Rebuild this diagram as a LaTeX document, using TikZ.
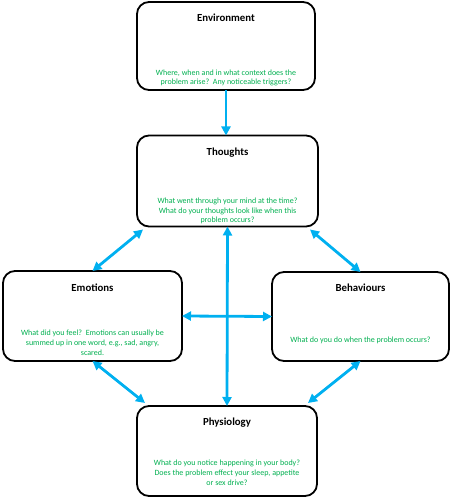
\documentclass[tikz,border=0pt]{standalone}
\usepackage{fontspec}
\setmainfont{Carlito}
\usepackage{xcolor}
\usetikzlibrary{arrows.meta}
\definecolor{cbtgreen}{RGB}{0,176,80}
\definecolor{cbtblue}{RGB}{0,176,240}

\begin{document}
\begin{tikzpicture}[x=1bp,y=-1bp,
    >={Triangle[length=9bp,width=9bp]},
    box/.style={draw=black, line width=1.8bp, rounded corners=12bp, fill=white, outer sep=0pt, inner sep=0pt},
    ttl/.style={inner sep=0pt, font=\bfseries\fontsize{10.8bp}{13bp}\selectfont},
    desc/.style={text=cbtgreen, align=center, inner sep=0pt, font=\fontsize{8bp}{9.8bp}\selectfont},
    link/.style={draw=cbtblue, line width=2.8bp}]
            \useasboundingbox (0,0) rectangle (452,497);

            % the five boxes
            \node[box, minimum width=178bp, minimum height=88bp] (env) at (226,46) {};
            \node[box, minimum width=181bp, minimum height=91bp] (tho) at (227.5,181) {};
            \node[box, minimum width=179bp, minimum height=90bp] (emo) at (92.5,316) {};
            \node[box, minimum width=177bp, minimum height=89bp] (beh) at (360.5,316.5) {};
            \node[box, minimum width=180bp, minimum height=90bp] (phy) at (227,451) {};

            \node[ttl] (envT) at ([yshift=-16bp]env.north) {Environment};
            \node[ttl] (thoT) at ([yshift=-17bp]tho.north) {Thoughts};
            \node[ttl] (emoT) at ([yshift=-17bp]emo.north) {Emotions};
            \node[ttl] (behT) at ([yshift=-16bp]beh.north) {Behaviours};
            \node[ttl] (phyT) at ([yshift=-17bp]phy.north) {Physiology};

            \node[desc] (envD) at ([yshift=12bp]env.south) {Where, when and in what context does the\\problem arise?\ \ Any noticeable triggers?};
            \node[desc] (thoD) at ([yshift=15.5bp]tho.south) {What went through your mind at the time?\\What do your thoughts look like when this\\problem occurs?};
            \node[desc] (emoD) at ([yshift=18.5bp]emo.south) {What did you feel?\ \ Emotions can usually be\\summed up in one word, e.g., sad, angry,\\scared.};
            \node[desc] (behD) at ([yshift=21bp]beh.south) {What do you do when the problem occurs?};
            \node[desc] (phyD) at ([yshift=23bp]phy.south) {What do you notice happening in your body?\\Does the problem effect your sleep, appetite\\or sex drive?};

            % arrows
            \draw[link, ->] (env.south) -- (env.south |- tho.north);
            \draw[link, <->] (tho.south) -- (phy.north);
            \draw[link, <->] (emo.east) -- (beh.west);
            \draw[link, <->] (emo.north) -- ([xshift=6bp,yshift=-3bp]tho.south west);
            \draw[link, <->] (beh.north) -- ([xshift=-8bp,yshift=-3bp]tho.south east);
            \draw[link, <->] (emo.south) -- ([xshift=8bp,yshift=3bp]phy.north west);
            \draw[link, <->] (beh.south) -- ([xshift=-9bp,yshift=3bp]phy.north east);
        \end{tikzpicture}
\end{document}
